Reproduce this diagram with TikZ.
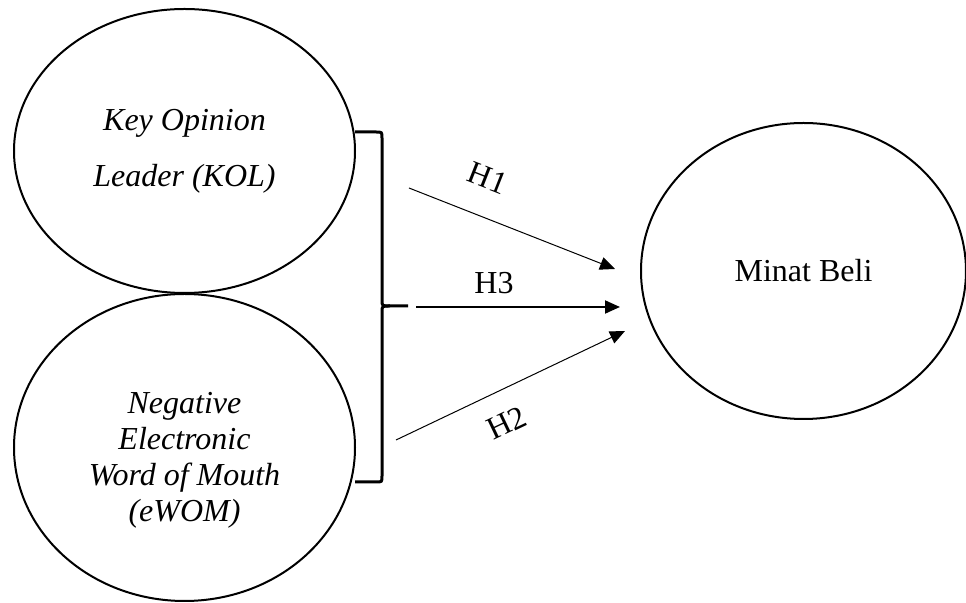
\documentclass[tikz,border=0pt]{standalone}
\usepackage{fontspec}
\setmainfont{Liberation Serif}
\usetikzlibrary{arrows.meta, positioning, shapes.geometric}

\begin{document}
\begin{tikzpicture}[x=0.5pt, y=-0.5pt,
  var/.style={draw, ellipse, line width=1pt, inner sep=0pt},
  kurung/.style={line width=1.5pt},
  panah/.style={-{Triangle[length=7.5pt, width=6.5pt]}, line width=0.5pt},
  hlabel/.style={font=\fontsize{16}{18}\selectfont, inner sep=0pt}]
  \useasboundingbox (0,0) rectangle (966,603);

  % variabel
  \node[var, minimum width=170.5pt, minimum height=142pt, align=center,
        font=\fontsize{16}{28}\selectfont\itshape] (kol) at (184.5,151)
        {Key Opinion\\Leader (KOL)};
  \node[var, minimum width=170.5pt, minimum height=153.5pt] (ewom) at (184.5,447.5) {};
  \node[align=center, font=\fontsize{16}{18}\selectfont\itshape] (ewomtext) at (184.5,460.5)
        {Negative\\Electronic\\Word of Mouth\\(eWOM)};
  \node[var, minimum width=162.5pt, minimum height=148pt,
        font=\fontsize{16}{18}\selectfont] (minat) at (803.5,271) {Minat Beli};

  % kurung kurawal
  \draw[kurung] (355,132) -- (376,132) .. controls (382,132) .. (382,138) -- (382,300)
    .. controls (382,306) .. (390,306) -- (408,306);
  \draw[kurung] (355,482) -- (376,482) .. controls (382,482) .. (382,476) -- (382,312)
    .. controls (382,306) .. (390,306);

  % hipotesis
  \coordinate (h1a) at (409,188);
  \coordinate (h1b) at (615,269);
  \coordinate (h3a) at (416,307);
  \coordinate (h3b) at (620,307);
  \coordinate (h2a) at (396,440);
  \coordinate (h2b) at (625,331);
  \draw[panah] (h1a) -- (h1b);
  \draw[panah, line width=1pt] (h3a) -- (h3b);
  \draw[panah] (h2a) -- (h2b);

  \node[hlabel, rotate=-21.5] (lh1) at (488,178) {H1};
  \node[hlabel] (lh3) at (494,283) {H3};
  \node[hlabel, rotate=25.5] (lh2) at (507,423) {H2};
\end{tikzpicture}
\end{document}
